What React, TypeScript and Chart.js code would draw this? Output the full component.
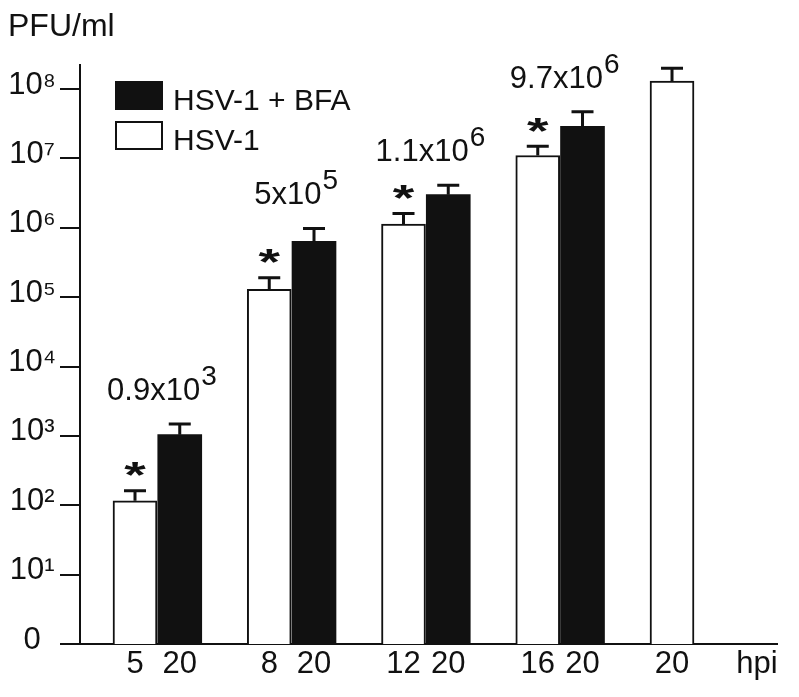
import React, { useEffect, useRef } from "react";
import { Chart, registerables } from "chart.js";

Chart.register(...registerables);

// ---- data ----
const seriesHSV = "HSV-1";
const seriesBFA = "HSV-1 + BFA";
const hsvSlots = [0, 3, 6, 9, 12];
const hsvValues = [116, 1.3e5, 1.13e6, 1.1e7, 1.3e8];
const hsvErrTop = [162, 1.9e5, 1.6e6, 1.5e7, 2.0e8];
const bfaSlots = [1, 4, 7, 10];
const bfaValues = [1040, 6.4e5, 3.0e6, 2.9e7];
const bfaErrTop = [1480, 9.8e5, 4.1e6, 4.7e7];
const hsvSignificant = [true, true, true, true, false];
const foldBase = ["0.9x10", "5x10", "1.1x10", "9.7x10"];
const foldExp = ["3", "5", "6", "6"];
const xTickSlots = [0, 1, 3, 4, 6, 7, 9, 10, 12, 13.9];
const xTickLabels = ["5", "20", "8", "20", "12", "20", "16", "20", "20", "hpi"];
const yTickValues = [1, 10, 100, 1e3, 1e4, 1e5, 1e6, 1e7, 1e8];
const yTickLabels = ["0", "10¹", "10²", "10³", "10⁴", "10⁵", "10⁶", "10⁷", "10⁸"];
const yAxisTitle = "PFU/ml";

const FONT = "'Liberation Sans', Arial, Helvetica, sans-serif";
const INK = "#111111";

const overlay = {
  id: "overlay",
  afterDatasetsDraw(chart: any) {
    const ctx: CanvasRenderingContext2D = chart.ctx;
    const yScale = chart.scales.y;
    const area = chart.chartArea;
    const mW = chart.getDatasetMeta(0);
    const mB = chart.getDatasetMeta(1);
    ctx.save();
    // error bars
    ctx.strokeStyle = INK;
    ctx.lineWidth = 3;
    const drawErr = (meta: any, tops: number[]) => {
      meta.data.forEach((bar: any, i: number) => {
        const yCap = yScale.getPixelForValue(tops[i]);
        ctx.beginPath();
        ctx.moveTo(bar.x, bar.y);
        ctx.lineTo(bar.x, yCap);
        ctx.moveTo(bar.x - 11, yCap);
        ctx.lineTo(bar.x + 11, yCap);
        ctx.stroke();
      });
    };
    drawErr(mW, hsvErrTop);
    drawErr(mB, bfaErrTop);

    // asterisks
    ctx.fillStyle = INK;
    ctx.font = `bold 46px ${FONT}`;
    ctx.textAlign = "center";
    ctx.textBaseline = "alphabetic";
    const m = ctx.measureText("*");
    const half = (m.actualBoundingBoxAscent - m.actualBoundingBoxDescent) / 2;
    mW.data.forEach((bar: any, i: number) => {
      if (!hsvSignificant[i]) return;
      const cy = yScale.getPixelForValue(hsvErrTop[i]) - 21;
      ctx.save();
      ctx.translate(bar.x, cy);
      ctx.scale(1.2, 0.8);
      ctx.fillText("*", 0, half);
      ctx.restore();
    });

    // fold-change annotations
    ctx.textAlign = "left";
    foldBase.forEach((base, i) => {
      const cx = (mW.data[i].x + mB.data[i].x) / 2 + 4;
      const baseY = yScale.getPixelForValue(bfaErrTop[i]) - 24;
      ctx.font = `31px ${FONT}`;
      const wb = ctx.measureText(base).width;
      ctx.font = `28px ${FONT}`;
      const we = ctx.measureText(foldExp[i]).width;
      const x0 = cx - (wb + we) / 2;
      ctx.font = `31px ${FONT}`;
      ctx.fillText(base, x0, baseY);
      ctx.font = `28px ${FONT}`;
      ctx.fillText(foldExp[i], x0 + wb + 1, baseY - 15);
    });

    // legend (black first, then white)
    const items = [1, 0].map((d) => chart.data.datasets[d]);
    const lx = area.left + 35;
    let ly = area.top + 16;
    ctx.font = `30px ${FONT}`;
    items.forEach((ds: any) => {
      ctx.fillStyle = ds.backgroundColor;
      ctx.fillRect(lx, ly, 48, 29);
      ctx.strokeStyle = INK;
      ctx.lineWidth = 2;
      ctx.strokeRect(lx + 1, ly + 1, 46, 27);
      ctx.fillStyle = INK;
      ctx.fillText(ds.label, lx + 58, ly + 29);
      ly += 40;
    });
    ctx.restore();
  },
};

export default function App() {
  const ref = useRef<HTMLCanvasElement | null>(null);
  useEffect(() => {
    if (!ref.current) return;
    Chart.defaults.font.family = FONT;
    Chart.defaults.color = INK;
    const chart = new Chart(ref.current, {
      type: "bar",
      data: {
        datasets: [
          {
            label: seriesHSV,
            data: hsvSlots.map((s, i) => ({ x: s, y: hsvValues[i] })),
            backgroundColor: "#ffffff",
            borderColor: INK,
            borderWidth: 2,
          },
          {
            label: seriesBFA,
            data: bfaSlots.map((s, i) => ({ x: s, y: bfaValues[i] })),
            backgroundColor: INK,
            borderColor: INK,
            borderWidth: 0,
          },
        ],
      },
      options: {
        animation: false,
        responsive: true,
        maintainAspectRatio: false,
        layout: { padding: { left: 0, right: 14, top: 0, bottom: 0 } },
        datasets: { bar: { grouped: false, barThickness: 44 } as any },
        plugins: {
          legend: { display: false },
          tooltip: { enabled: false },
          title: {
            display: true,
            text: yAxisTitle,
            align: "start",
            color: INK,
            font: { size: 32, weight: "normal" as any },
            padding: { top: 0, bottom: 18.6 },
          },
        },
        scales: {
          x: {
            type: "linear",
            min: -1.229,
            max: 14.346,
            offset: false,
            grid: { display: false, drawTicks: false, offset: false } as any,
            border: { display: true, color: INK, width: 2 },
            ticks: {
              autoSkip: false,
              maxRotation: 0,
              padding: 2,
              color: INK,
              font: { size: 31 },
              callback: (_v: any, i: number) => xTickLabels[i],
            },
            afterBuildTicks: (s: any) => {
              s.ticks = xTickSlots.map((v) => ({ value: v }));
            },
            afterFit: (s: any) => {
              s.height = 45;
            },
          } as any,
          y: {
            type: "logarithmic",
            min: 1,
            max: 2.22e8,
            grid: { drawOnChartArea: false, drawTicks: true, tickLength: 20, color: INK, lineWidth: 2 },
            border: { display: true, color: INK, width: 2 },
            ticks: {
              crossAlign: "center",
              padding: 4,
              labelOffset: -4,
              color: INK,
              font: { size: 31 },
              autoSkip: false,
              callback: (_v: any, i: number) => yTickLabels[i],
            },
            afterBuildTicks: (s: any) => {
              s.ticks = yTickValues.map((v) => ({ value: v }));
            },
            afterFit: (s: any) => {
              s.width = 72;
            },
          } as any,
        },
      },
      plugins: [overlay],
    });
    return () => chart.destroy();
  }, []);
  return (
    <div style={{ position: "relative", width: "100%", height: 681 }}>
      <canvas ref={ref} />
    </div>
  );
}
